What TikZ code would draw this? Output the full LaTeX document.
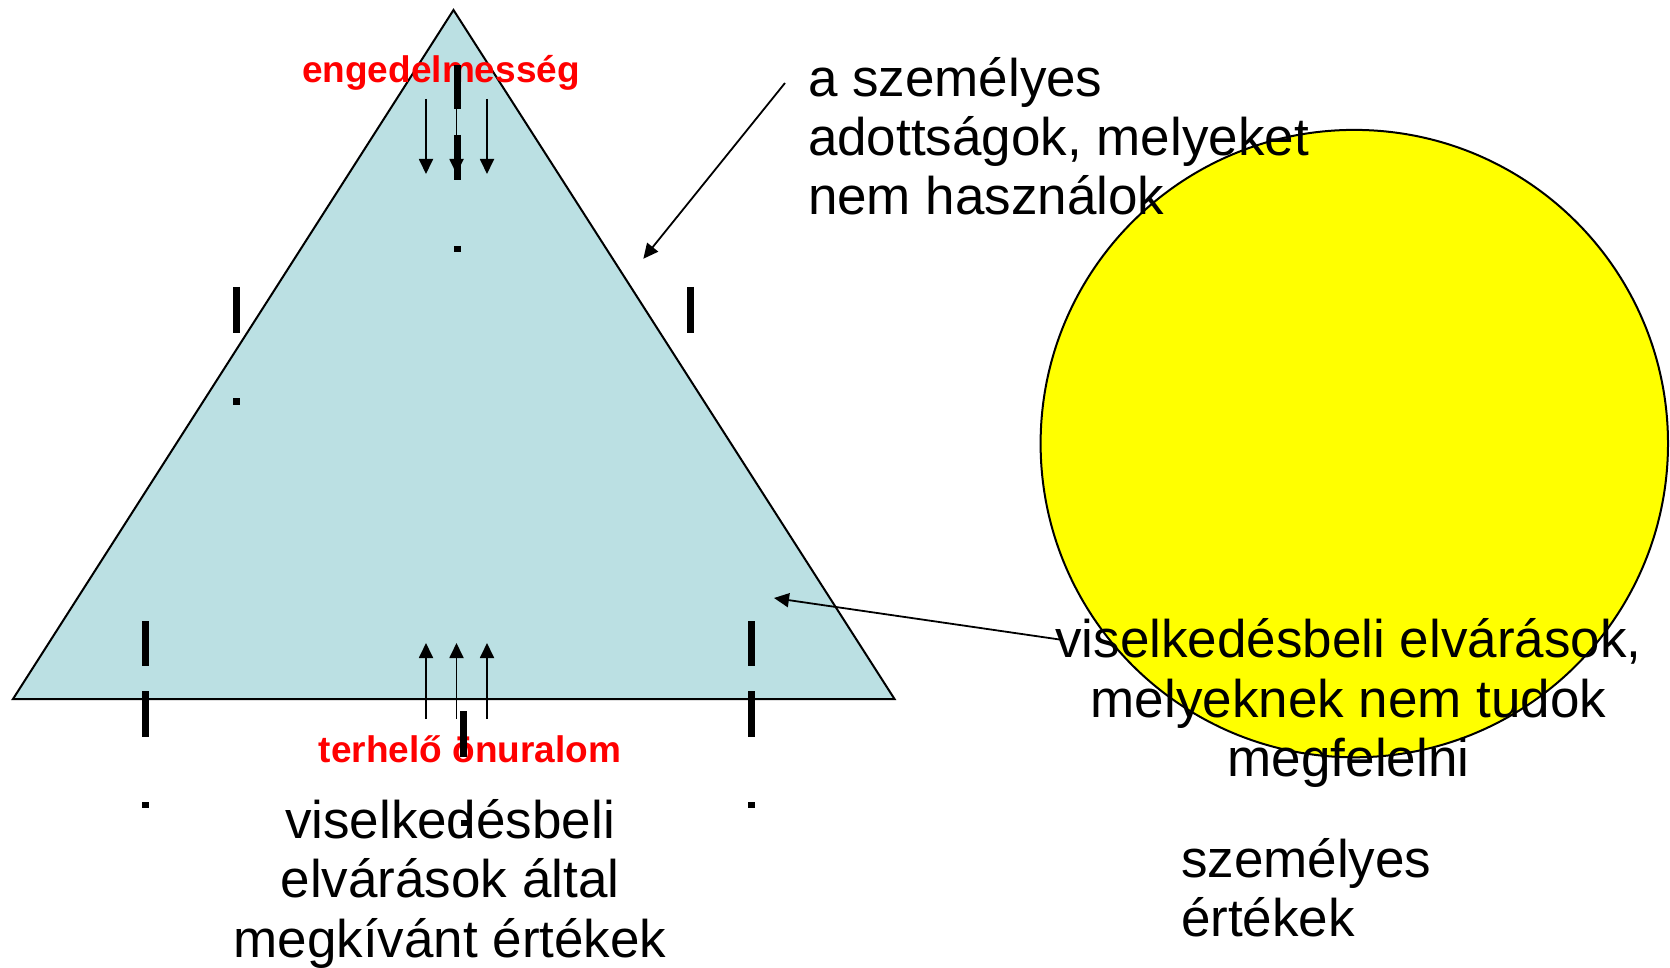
\documentclass[tikz,border=0pt]{standalone}
\usepackage{fontspec}
\setmainfont{Liberation Sans}
\usetikzlibrary{arrows.meta}
\definecolor{tri}{RGB}{187,224,227}
\definecolor{sunyellow}{RGB}{255,255,0}
\definecolor{redtext}{RGB}{255,0,0}
\begin{document}
\begin{tikzpicture}[x=1pt,y=-1pt,
  bigtxt/.style={font=\fontsize{53}{59}\selectfont, inner sep=0pt, outer sep=0pt},
  redtxt/.style={font=\fontsize{37}{44}\selectfont\bfseries, text=redtext, inner sep=0pt, outer sep=0pt},
  thinarrow/.style={line width=1.8pt, -{Triangle[length=15pt,width=14pt]}},
  dashmark/.style={line width=7pt, line cap=butt},
]
\useasboundingbox (0,0) rectangle (1670,968);
% triangle
\coordinate (apex) at (453.5,10);
\coordinate (bl) at (13,699);
\coordinate (br) at (894.5,699);
\draw[line width=2pt, fill=tri, line join=miter] (apex) -- (br) -- (bl) -- cycle;
% circle
\node[circle, draw, line width=2pt, fill=sunyellow, minimum size=627.4pt, inner sep=0pt] (sun) at (1354.3,443.6) {};
% texts
\node[redtxt, anchor=base] (eng) at (441,82.5) {engedelmesség};
\node[redtxt, anchor=base] (ter) at (470,762.5) {terhelő önuralom};
\node[bigtxt, anchor=base west] (ta1) at (808,96.7) {a személyes};
\node[bigtxt, anchor=base west] (ta2) at (808,156) {adottságok, melyeket};
\node[bigtxt, anchor=base west] (ta3) at (808,215) {nem használok};
\node[bigtxt, anchor=base] (rv1) at (1348.5,657) {viselkedésbeli elvárások,};
\node[bigtxt, anchor=base] (rv2) at (1348.5,717) {melyeknek nem tudok};
\node[bigtxt, anchor=base] (rv3) at (1348.5,776) {megfelelni};
\node[bigtxt, anchor=base] (lv1) at (450,838) {viselkedésbeli};
\node[bigtxt, anchor=base] (lv2) at (450,897) {elvárások által};
\node[bigtxt, anchor=base] (lv3) at (450,957) {megkívánt értékek};
\node[bigtxt, anchor=base west] (sz1) at (1181,877) {személyes};
\node[bigtxt, anchor=base west] (sz2) at (1181,936) {értékek};
% pointer arrows
\coordinate (p1s) at (785,83);
\coordinate (p1e) at (643.3,258.8);
\draw[thinarrow] (p1s) -- (p1e);
\coordinate (p2s) at (1063,640);
\coordinate (p2e) at (774,598);
\draw[thinarrow] (p2s) -- (p2e);
% down and up arrows
\foreach \i/\x in {1/426,2/456.5,3/487}{
  \coordinate (ds\i) at (\x,99);
  \coordinate (de\i) at (\x,174);
  \draw[thinarrow] (ds\i) -- (de\i);
  \coordinate (us\i) at (\x,719);
  \coordinate (ue\i) at (\x,643);
  \draw[thinarrow] (us\i) -- (ue\i);
}
% thick dash marks
\draw[dashmark] (457,65) -- (457,109);
\draw[dashmark] (457,135) -- (457,180);
\draw[dashmark] (457,246) -- (457,252.5);
\draw[dashmark] (236.5,287) -- (236.5,333);
\draw[dashmark] (236.5,398) -- (236.5,405);
\draw[dashmark] (690.5,287) -- (690.5,333);
\draw[dashmark] (145,621) -- (145,666);
\draw[dashmark] (145,691) -- (145,737);
\draw[dashmark] (145,802) -- (145,808);
\draw[dashmark] (751,621) -- (751,666);
\draw[dashmark] (751,691) -- (751,737);
\draw[dashmark] (751,802) -- (751,808);
\draw[dashmark] (463,711) -- (463,757);
\draw[dashmark] (464.5,820) -- (464.5,826);
\end{tikzpicture}
\end{document}
